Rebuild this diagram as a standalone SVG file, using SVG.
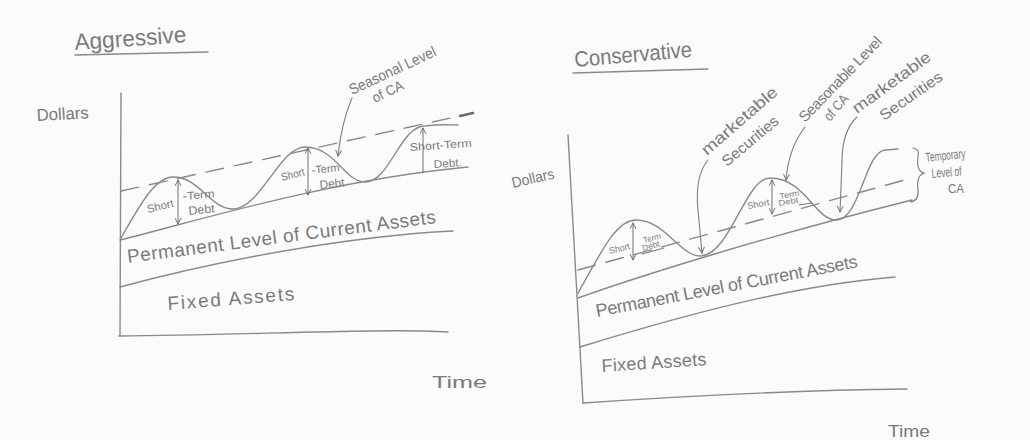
<svg xmlns="http://www.w3.org/2000/svg" width="1030" height="440" viewBox="0 0 1030 440">
  <defs>
    <style>
      .ln { fill: none; stroke: #8a8a8a; stroke-width: 1.4; stroke-linecap: round; stroke-linejoin: round; }
      .dash { fill: none; stroke: #8a8a8a; stroke-width: 1.4; stroke-dasharray: 18 11; stroke-linecap: round; }
      .thin { fill: none; stroke: #7d7d7d; stroke-width: 1.1; stroke-linecap: round; }
      .t { font-family: "Liberation Sans", "DejaVu Sans", sans-serif; fill: #7a7a7a; }
    </style>
    <marker id="ah" viewBox="0 0 10 10" refX="9" refY="5" markerWidth="7" markerHeight="7" orient="auto-start-reverse" markerUnits="userSpaceOnUse">
      <path d="M1,1 L9,5 L1,9" fill="none" stroke="#707070" stroke-width="1.4" stroke-linecap="round"/>
    </marker>
  </defs>
  <rect x="0" y="0" width="1030" height="440" fill="#fbfbfb"/>

  <!-- ===== Aggressive panel ===== -->
  <g id="aggressive-title">
    <text class="t" x="75" y="50" font-size="23" textLength="112" lengthAdjust="spacingAndGlyphs" transform="rotate(-4 75 50)">Aggressive</text>
    <path class="ln" d="M75,55 L208,52"/>
  </g>
  <g id="aggressive-axes">
    <path class="ln" d="M121,93 L120,336"/>
    <path class="ln" d="M119,336 C250,335 380,328 448,332"/>
    <text class="t" x="37" y="121" font-size="17" textLength="52" lengthAdjust="spacingAndGlyphs" transform="rotate(-3 37 121)">Dollars</text>
    <text class="t" x="432" y="388" font-size="17" textLength="55" lengthAdjust="spacingAndGlyphs">Time</text>
  </g>
  <g id="aggressive-fixed-assets">
    <path class="ln" d="M120,287 C220,260 350,236 453,231"/>
    <text class="t" x="168" y="310" font-size="19" textLength="127" lengthAdjust="spacing" transform="rotate(-4.5 168 310)">Fixed Assets</text>
  </g>
  <g id="aggressive-permanent-ca">
    <path class="ln" d="M120,240 C200,220 330,180 468,167"/>
    <text class="t" x="128" y="263" font-size="19" textLength="311" lengthAdjust="spacing" transform="rotate(-7.4 128 263)">Permanent Level of Current Assets</text>
  </g>
  <g id="aggressive-seasonal-ca">
    <path class="ln" d="M121,238 C140,205 155,177 173,177 C200,177 210,209 233,209 C260,209 280,147 305,147 C335,147 345,182 365,182 C390,182 400,126 425,126 C440,124 450,125 458,125"/>
    <path class="dash" d="M121,191 L473,113"/>
    <path d="M460,116 L473,113" stroke="#6a6a6a" stroke-width="2.4" stroke-linecap="round"/>
  </g>
  <g id="aggressive-seasonal-label">
    <text class="t" x="352" y="95" font-size="15" textLength="94" lengthAdjust="spacingAndGlyphs" transform="rotate(-25 352 95)">Seasonal Level</text>
    <text class="t" x="375" y="103" font-size="14" textLength="33" lengthAdjust="spacingAndGlyphs" transform="rotate(-26 375 103)">of CA</text>
  </g>
  <g id="aggressive-std-1">
    <text class="t" x="148" y="213" font-size="11" textLength="27" lengthAdjust="spacingAndGlyphs" transform="rotate(-14 148 213)">Short</text>
    <text class="t" x="183" y="200" font-size="11" textLength="32" lengthAdjust="spacingAndGlyphs" transform="rotate(-5 183 200)">-Term</text>
    <text class="t" x="189" y="215" font-size="12" textLength="26" lengthAdjust="spacingAndGlyphs" transform="rotate(-6 189 215)">Debt</text>
  </g>
  <g id="aggressive-std-2">
    <text class="t" x="282" y="181" font-size="11" textLength="24" lengthAdjust="spacingAndGlyphs" transform="rotate(-14 282 181)">Short</text>
    <text class="t" x="312" y="174" font-size="11" textLength="28" lengthAdjust="spacingAndGlyphs" transform="rotate(-6 312 174)">-Term</text>
    <text class="t" x="320" y="189" font-size="12" textLength="25" lengthAdjust="spacingAndGlyphs" transform="rotate(-6 320 189)">Debt</text>
  </g>
  <g id="aggressive-std-3">
    <text class="t" x="410" y="151" font-size="11" textLength="62" lengthAdjust="spacingAndGlyphs" transform="rotate(-4 410 151)">Short-Term</text>
    <text class="t" x="434" y="168" font-size="11" textLength="28" lengthAdjust="spacingAndGlyphs" transform="rotate(-4 434 168)">Debt.</text>
  </g>

  <!-- ===== Conservative panel ===== -->
  <g id="conservative-title">
    <text class="t" x="575" y="67" font-size="22" textLength="118" lengthAdjust="spacingAndGlyphs" transform="rotate(-5 575 67)">Conservative</text>
    <path class="ln" d="M573,73 L708,69"/>
  </g>
  <g id="conservative-axes">
    <path class="ln" d="M568,135 L583,403"/>
    <path class="ln" d="M583,403 C700,395 800,390 907,389"/>
    <text class="t" x="513" y="188" font-size="15" textLength="43" lengthAdjust="spacingAndGlyphs" transform="rotate(-13 513 188)">Dollars</text>
    <text class="t" x="888" y="437" font-size="16" textLength="42" lengthAdjust="spacingAndGlyphs">Time</text>
  </g>
  <g id="conservative-fixed-assets">
    <path class="ln" d="M580,347 C700,310 800,285 895,277"/>
    <text class="t" x="602" y="372" font-size="18" textLength="105" lengthAdjust="spacing" transform="rotate(-3.8 602 372)">Fixed Assets</text>
  </g>
  <g id="conservative-permanent-ca">
    <path class="ln" d="M578,298 C640,276 760,238 912,200"/>
    <text class="t" x="597" y="317" font-size="18" textLength="266" lengthAdjust="spacing" transform="rotate(-10.8 597 317)">Permanent Level of Current Assets</text>
  </g>
  <g id="conservative-seasonal-ca">
    <path class="ln" d="M578,293 C600,255 615,220 636,220 C665,220 680,256 700,256 C730,256 745,178 770,178 C805,178 815,220 836,220 C860,220 865,152 885,150 L898,149"/>
    <path class="dash" d="M578,270 L912,178"/>
  </g>
  <g id="conservative-temporary-ca">
    <path class="thin" d="M913,148 Q920,149 918,157 Q916,171 924,173 Q916,176 918,190 Q919,201 910,202"/>
    <text class="t" x="926" y="162" font-size="13" textLength="40" lengthAdjust="spacingAndGlyphs" transform="rotate(-6 926 162)">Temporary</text>
    <text class="t" x="932" y="178" font-size="13" textLength="30" lengthAdjust="spacingAndGlyphs" transform="rotate(-5 932 178)">Level of</text>
    <text class="t" x="948" y="193" font-size="13" textLength="16" lengthAdjust="spacingAndGlyphs">CA</text>
  </g>
  <g id="conservative-marketable-1">
    <text class="t" x="707" y="156" font-size="16" textLength="95" lengthAdjust="spacingAndGlyphs" transform="rotate(-41 707 156)">marketable</text>
    <text class="t" x="727" y="167" font-size="15" textLength="69" lengthAdjust="spacingAndGlyphs" transform="rotate(-40 727 167)">Securities</text>
  </g>
  <g id="conservative-seasonable-label">
    <text class="t" x="805" y="123" font-size="15" textLength="112" lengthAdjust="spacing" transform="rotate(-46 805 123)">Seasonable Level</text>
    <text class="t" x="830" y="122" font-size="14" textLength="30" lengthAdjust="spacingAndGlyphs" transform="rotate(-50 830 122)">of CA</text>
  </g>
  <g id="conservative-marketable-2">
    <text class="t" x="857" y="114" font-size="16" textLength="93" lengthAdjust="spacingAndGlyphs" transform="rotate(-36 857 114)">marketable</text>
    <text class="t" x="884" y="121" font-size="15" textLength="73" lengthAdjust="spacingAndGlyphs" transform="rotate(-35 884 121)">Securities</text>
  </g>
  <g id="conservative-std-1">
    <text class="t" x="610" y="254" font-size="9" textLength="21" lengthAdjust="spacingAndGlyphs" transform="rotate(-14 610 254)">Short</text>
    <text class="t" x="644" y="243" font-size="8" textLength="18" lengthAdjust="spacingAndGlyphs" transform="rotate(-16 644 243)">Term</text>
    <text class="t" x="643" y="251" font-size="8" textLength="18" lengthAdjust="spacingAndGlyphs" transform="rotate(-16 643 251)">Debt</text>
    <path class="thin" d="M642,254 L664,248"/>
  </g>
  <g id="conservative-std-2">
    <text class="t" x="748" y="209" font-size="9" textLength="22" lengthAdjust="spacingAndGlyphs" transform="rotate(-10 748 209)">Short</text>
    <text class="t" x="780" y="199" font-size="8" textLength="20" lengthAdjust="spacingAndGlyphs" transform="rotate(-10 780 199)">Term</text>
    <text class="t" x="779" y="206" font-size="8" textLength="20" lengthAdjust="spacingAndGlyphs" transform="rotate(-10 779 206)">Debt</text>
    <path class="thin" d="M799,205 L812,203"/>
  </g>

  <!-- ===== Connectors ===== -->
  <g id="connectors">
    <path class="thin" d="M178,180 L178,224" marker-start="url(#ah)" marker-end="url(#ah)"/>
    <path class="thin" d="M308,148 L308,195" marker-start="url(#ah)" marker-end="url(#ah)"/>
    <path class="thin" d="M423,128 L423,173" marker-start="url(#ah)"/>
    <path class="thin" d="M352,98 C346,112 341,128 338,156" marker-end="url(#ah)"/>
    <path class="thin" d="M633,223 L633,260" marker-start="url(#ah)" marker-end="url(#ah)"/>
    <path class="thin" d="M772,180 L772,214" marker-start="url(#ah)" marker-end="url(#ah)"/>
    <path class="thin" d="M708,160 C698,172 696,190 698,210 L702,253" marker-end="url(#ah)"/>
    <path class="thin" d="M805,127 C795,140 788,156 786,180" marker-end="url(#ah)"/>
    <path class="thin" d="M857,117 C846,127 842,142 842,162 L840,212" marker-end="url(#ah)"/>
  </g>
</svg>
